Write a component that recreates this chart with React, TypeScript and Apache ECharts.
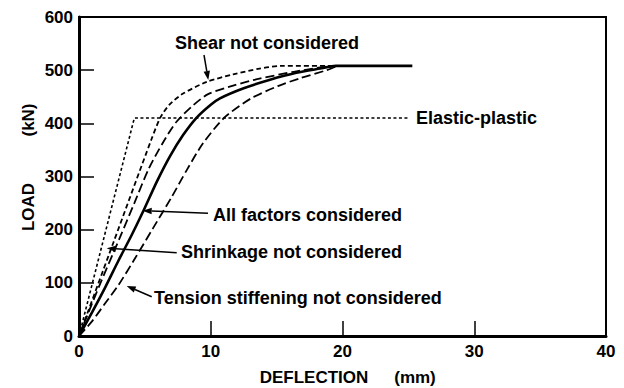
import React, { useEffect, useRef } from "react";
import * as echarts from "echarts";

const FONT = '"Liberation Sans", Arial, Helvetica, sans-serif';

// Deflection (mm), Load (kN)
const elasticPlastic: [number, number][] = [[0, 0], [4.2, 410], [25.1, 410]];
const shearNotConsidered: [number, number][] = [
  [0, 0], [2.6, 175], [5.5, 370], [6.2, 412], [6.9, 436], [7.9, 456], [9.7, 478],
  [11.7, 492], [13.7, 503], [15.3, 508], [19.5, 508],
];
const shrinkageNotConsidered: [number, number][] = [
  [0, 0], [1.5, 92], [3.1, 185], [4.2, 250], [5.3, 315], [6.4, 365], [7.4, 403],
  [8.67, 434], [9.8, 455], [11.7, 471], [13.7, 484], [16.3, 497], [18.3, 505], [19.5, 508],
];
const allFactorsConsidered: [number, number][] = [
  [0, 0], [1.0, 45], [2.0, 92], [3.0, 142], [4.0, 190], [4.9, 236], [5.9, 290],
  [6.9, 338], [7.9, 378], [8.9, 410], [10.0, 435], [10.7, 447], [12.5, 466],
  [14.5, 482], [16.5, 495], [18.3, 503], [19.5, 508], [25.3, 508],
];
const tensionStiffeningNotConsidered: [number, number][] = [
  [0, 0], [1.0, 28], [2.0, 62], [3.0, 96], [4.3, 148], [5.6, 202], [7.0, 260],
  [8.2, 313], [9.4, 362], [11.0, 410], [13.0, 446], [15.1, 470], [16.8, 485],
  [18.8, 500], [19.6, 508],
];

const xTicks = [0, 10, 20, 30, 40];
const yTicks = [0, 100, 200, 300, 400, 500, 600];

function arrow(x1: number, y1: number, x2: number, y2: number) {
  const dx = x2 - x1;
  const dy = y2 - y1;
  const len = Math.sqrt(dx * dx + dy * dy);
  const ux = dx / len;
  const uy = dy / len;
  const hl = 9;
  const hw = 3.2;
  const bx = x2 - ux * hl;
  const by = y2 - uy * hl;
  return [
    {
      type: "line",
      shape: { x1, y1, x2: bx, y2: by },
      style: { stroke: "#000", lineWidth: 1.5 },
      z: 100,
    },
    {
      type: "polygon",
      shape: {
        points: [
          [x2, y2],
          [bx - uy * hw, by + ux * hw],
          [bx + uy * hw, by - ux * hw],
        ],
      },
      style: { fill: "#000" },
      z: 100,
    },
  ];
}

function label(text: string, x: number, y: number, size = 18, rotation = 0, align = "left") {
  return {
    type: "text",
    x,
    y,
    rotation,
    z: 100,
    style: {
      text,
      fill: "#000",
      fontSize: size,
      fontWeight: "bold",
      fontFamily: FONT,
      align,
      verticalAlign: "middle",
    },
  };
}

export default function App() {
  const ref = useRef<HTMLDivElement>(null);
  useEffect(() => {
    const chart = echarts.init(ref.current!, null, { renderer: "svg" });
    const mk = (name: string, data: [number, number][], type: any, width: number, smooth: any) => ({
      name,
      type: "line",
      data,
      showSymbol: false,
      symbol: "none",
      smooth,
      lineStyle: { color: "#000", width, type },
      z: 5,
    });
    chart.setOption({
      animation: false,
      backgroundColor: "#fff",
      grid: {
        left: 79,
        right: 18,
        top: 17,
        bottom: 52,
        show: true,
        borderColor: "#000",
        borderWidth: 2,
        containLabel: false,
      },
      xAxis: {
        type: "value",
        min: xTicks[0],
        max: xTicks[xTicks.length - 1],
        interval: 10,
        axisLine: { show: true, onZero: false, lineStyle: { color: "#000", width: 3 } },
        axisTick: { show: true, inside: true, length: 15, lineStyle: { color: "#000", width: 1.5 } },
        axisLabel: { color: "#000", fontSize: 17, fontWeight: "bold", fontFamily: FONT, margin: 7 },
        splitLine: { show: false },
      },
      yAxis: {
        type: "value",
        min: yTicks[0],
        max: yTicks[yTicks.length - 1],
        interval: 100,
        axisLine: { show: true, onZero: false, lineStyle: { color: "#000", width: 3 } },
        axisTick: { show: true, inside: true, length: 15, lineStyle: { color: "#000", width: 1.5 } },
        axisLabel: { color: "#000", fontSize: 17, fontWeight: "bold", fontFamily: FONT, margin: 6 },
        splitLine: { show: false },
      },
      series: [
        mk("Elastic-plastic", elasticPlastic, [3, 2.5], 1.6, false),
        mk("Shear not considered", shearNotConsidered, [5, 3], 1.8, 0.25),
        mk("Shrinkage not considered", shrinkageNotConsidered, [9, 4], 1.8, 0.25),
        mk("All factors considered", allFactorsConsidered, "solid", 2.6, 0.25),
        mk("Tension stiffening not considered", tensionStiffeningNotConsidered, [9, 4], 1.8, 0.25),
      ],
      graphic: [
        label("Shear not considered", 175, 43),
        label("Elastic-plastic", 416, 118),
        label("All factors considered", 213, 215),
        label("Shrinkage not considered", 181, 252),
        label("Tension stiffening not considered", 154, 298),
        label("LOAD", 28, 207, 17, Math.PI / 2, "center"),
        label("(kN)", 28, 120, 17, Math.PI / 2, "center"),
        label("DEFLECTION", 314, 377, 17, 0, "center"),
        label("(mm)", 415, 377, 17, 0, "center"),
        ...arrow(204, 55, 208.3, 80),
        ...arrow(208, 213.3, 142.7, 210.7),
        ...arrow(176.7, 252.7, 106.7, 248.3),
        ...arrow(151.7, 296.7, 126.7, 286),
      ],
    });
    return () => chart.dispose();
  }, []);
  return (
    <div
      ref={ref}
      style={{ position: "fixed", left: 0, top: 0, width: 624, height: 388, background: "#fff" }}
    />
  );
}
